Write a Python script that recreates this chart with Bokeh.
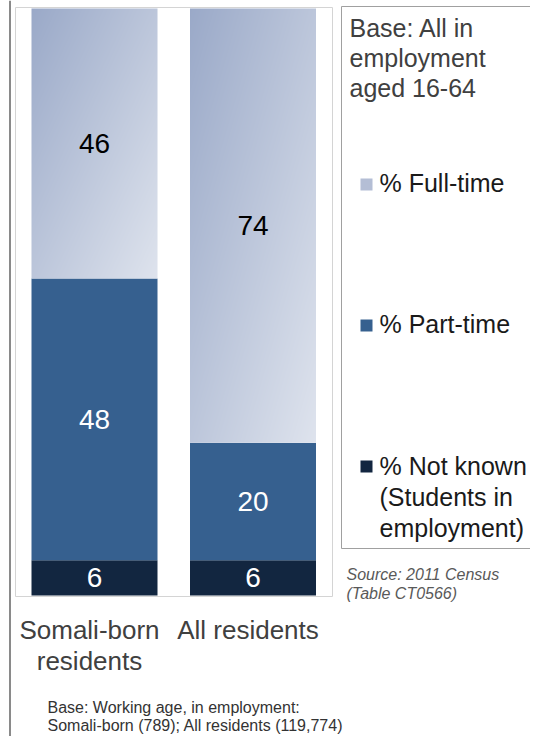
import numpy as np
from bokeh.plotting import figure
from bokeh.models import Range1d, ColumnDataSource
from bokeh.core.properties import value
from bokeh.embed import file_html
from bokeh.resources import INLINE

# ---------------- data ----------------
categories = ["Somali-born\nresidents", "All residents"]
full_time = [46, 74]
part_time = [48, 20]
not_known = [6, 6]
series_labels = ["% Full-time", "% Part-time", "% Not known\n(Students in\nemployment)"]
legend_title = "Base: All in\nemployment\naged 16-64"
source_note = "Source: 2011 Census\n(Table CT0566)"
base_note = "Base: Working age, in employment:\nSomali-born (789); All residents (119,774)"

# ---------------- styling ----------------
FONT = value("Liberation Sans")
C_FULL_A = (0x9a, 0xa9, 0xc8)   # gradient start (top-left)
C_FULL_B = (0xde, 0xe3, 0xed)   # gradient end (bottom-right)
C_FULL = "#b4bed5"
C_PART = "#36608f"
C_NK = "#122640"
TXT = "#404040"

W, H = 530, 736
BAR_C0, BAR_STEP = 94.0, 158.5      # bar centre of first category, spacing (px)
Y0_PX, Y100_PX = 595.0, 8.0
YSCALE = (Y0_PX - Y100_PX) / 100.0


def X(px):
    return (px - BAR_C0) / BAR_STEP


def Y(py):
    return (Y0_PX - py) / YSCALE


def DX(px):
    return px / BAR_STEP


p = figure(width=W, height=H, output_backend="svg", toolbar_location=None,
           x_range=Range1d(X(0), X(W)), y_range=Range1d(Y(H), Y(0)),
           x_axis_type=None, y_axis_type=None, min_border=0)
p.grid.visible = False
p.outline_line_color = None
p.background_fill_color = "white"
p.border_fill_color = "white"

# page-left rule and chart frame
p.segment(x0=[X(9.5)], y0=[Y(0)], x1=[X(9.5)], y1=[Y(H)], line_color="#8a8a8a", line_width=2)
p.quad(left=[X(15)], right=[X(332)], bottom=[Y(596)], top=[Y(7)],
       fill_color=None, line_color="#d4d4d4", line_width=1)

# ---------------- bars ----------------
n = len(categories)
xs = np.arange(n, dtype=float)
bw = DX(126)
nk = np.array(not_known, float)
pt = np.array(part_time, float)
ft = np.array(full_time, float)

src = ColumnDataSource(dict(left=xs - bw / 2, right=xs + bw / 2,
                            nk_top=nk, pt_top=nk + pt, ft_top=nk + pt + ft))
p.quad(left="left", right="right", bottom=0, top="nk_top", source=src,
       fill_color=C_NK, line_color=None)
p.quad(left="left", right="right", bottom="nk_top", top="pt_top", source=src,
       fill_color=C_PART, line_color=None)


def gradient(nx, ny):
    img = np.empty((ny, nx), dtype=np.uint32)
    v = img.view(dtype=np.uint8).reshape((ny, nx, 4))
    u = np.linspace(0, 1, nx)[None, :]
    t_v = np.linspace(1, 0, ny)[:, None]   # row 0 is bottom -> v=1
    t = (u + t_v) / 2.0
    for k in range(3):
        v[:, :, k] = np.round(C_FULL_A[k] + (C_FULL_B[k] - C_FULL_A[k]) * t).astype(np.uint8)
    v[:, :, 3] = 255
    return img


imgs = [gradient(126, int(round(YSCALE * f))) for f in full_time]
p.image_rgba(image=imgs, x=list(xs - bw / 2), y=list(nk + pt), dw=[bw] * n, dh=list(ft))

# value labels
lab = ColumnDataSource(dict(
    x=np.concatenate([xs, xs, xs]),
    y=np.concatenate([nk + pt + ft / 2, nk + pt / 2, nk / 2]),
    text=[str(v) for v in full_time] + [str(v) for v in part_time] + [str(v) for v in not_known],
    color=["#000000"] * n + ["#ffffff"] * n + ["#ffffff"] * n,
))
p.text(x="x", y="y", text="text", source=lab, text_color="color",
       text_font=FONT, text_font_size=value("28px"),
       text_align="center", text_baseline="middle")

# category labels (one text per line)
cx, cy, ct = [], [], []
for i, c in enumerate(categories):
    for j, line in enumerate(c.split("\n")):
        cx.append(xs[i] + DX(-5))
        cy.append(Y(629 + 31 * j))
        ct.append(line)
p.text(x=cx, y=cy, text=ct, text_color=TXT, text_font=FONT,
       text_font_size=value("26px"), text_align="center", text_baseline="middle")

# ---------------- legend ----------------
p.quad(left=[X(341)], right=[X(530)], bottom=[Y(548)], top=[Y(6)],
       fill_color="white", line_color="#a0a0a0", line_width=1)
tl = legend_title.split("\n")
p.text(x=[X(349)] * len(tl), y=[Y(27 + 30 * j) for j in range(len(tl))], text=tl,
       text_color=TXT, text_font=FONT, text_font_size=value("25px"),
       text_align="left", text_baseline="middle")

item_mid = [182, 323, 465]
marker_c = [184, 325, 466]
colors = [C_FULL, C_PART, C_NK]
p.scatter(x=[X(366)] * 3, y=[Y(m) for m in marker_c], marker="square", size=12,
          fill_color=colors, line_color=None)
lx, ly, lt = [], [], []
for b, s in zip(item_mid, series_labels):
    for j, line in enumerate(s.split("\n")):
        lx.append(X(379))
        ly.append(Y(b + 31 * j))
        lt.append(line)
p.text(x=lx, y=ly, text=lt, text_color="#1a1a1a", text_font=FONT,
       text_font_size=value("25px"), text_align="left", text_baseline="middle")

# notes
sl = source_note.split("\n")
p.text(x=[X(346)] * len(sl), y=[Y(574 + 19 * j) for j in range(len(sl))], text=sl,
       text_color="#595959", text_font=FONT, text_font_style="italic",
       text_font_size=value("16px"), text_align="left", text_baseline="middle")
bl = base_note.split("\n")
p.text(x=[X(47)] * len(bl), y=[Y(707 + 18 * j) for j in range(len(bl))], text=bl,
       text_color="#333333", text_font=FONT,
       text_font_size=value("16px"), text_align="left", text_baseline="middle")

open("out.html", "w").write(file_html(p, INLINE))
